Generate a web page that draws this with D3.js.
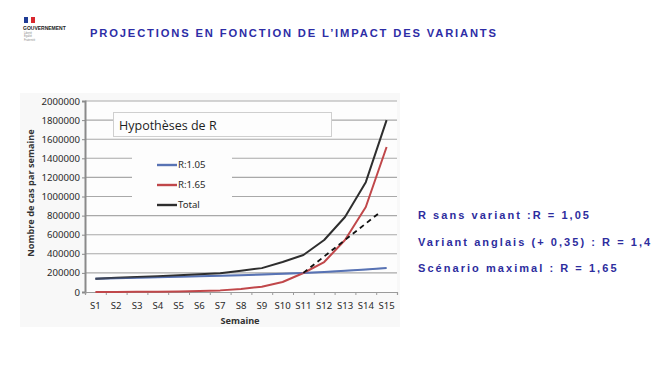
<!DOCTYPE html>
<html>
<head>
<meta charset="utf-8">
<script src="https://cdn.jsdelivr.net/npm/d3@7"></script>
<style>
  body { margin: 0; background: #fff; }
  svg { display: block; }
</style>
</head>
<body>
<div id="chart"></div>
<script>
// weeks and series values (cases per week)
var aWeeks = ["S1", "S2", "S3", "S4", "S5", "S6", "S7", "S8", "S9", "S10", "S11", "S12", "S13", "S14", "S15"];
var aR105 = [140000, 145000, 150000, 155000, 160000, 165000, 170000, 175000, 182000, 190000, 200000, 210000, 222000, 236000, 251000];
var aR165 = [700, 1200, 2000, 3500, 6000, 10000, 17000, 31000, 56000, 105000, 199000, 314000, 545000, 890000, 1518000];
var aTotal = [140000, 150000, 158000, 165000, 175000, 185000, 196000, 223000, 250000, 314000, 387000, 545000, 785000, 1150000, 1800000];
// dashed extrapolation: [week index, value]
var aDashed = [[11, 200000], [14.6, 820000]];
var aYTicks = [0, 200000, 400000, 600000, 800000, 1000000, 1200000, 1400000, 1600000, 1800000, 2000000];
var aLegend = [
  {label: "R:1.05", color: "#5873b4"},
  {label: "R:1.65", color: "#c0474a"},
  {label: "Total", color: "#2e2e2e"}
];
var aNotes = ["R sans variant :R = 1,05", "Variant anglais (+ 0,35) : R = 1,4", "Scénario maximal : R = 1,65"];

var W = 661, H = 371;
var svg = d3.select("#chart").append("svg").attr("width", W).attr("height", H);

// --- header ---
var gLogo = svg.append("g");
gLogo.append("rect").attr("x", 24).attr("y", 17).attr("width", 4).attr("height", 6).attr("fill", "#1f3c95");
gLogo.append("rect").attr("x", 28).attr("y", 17).attr("width", 3).attr("height", 6).attr("fill", "#ffffff");
gLogo.append("rect").attr("x", 31).attr("y", 17).attr("width", 4).attr("height", 6).attr("fill", "#d9272e");
gLogo.append("text").attr("x", 23).attr("y", 29.5)
  .attr("font-family", "Liberation Sans, Arial, sans-serif").attr("font-size", 5).attr("font-weight", "bold")
  .attr("fill", "#222").text("GOUVERNEMENT");
["Liberté", "Égalité", "Fraternité"].forEach(function(s, i) {
  gLogo.append("text").attr("x", 24).attr("y", 34 + i * 3.3)
    .attr("font-family", "Liberation Sans, Arial, sans-serif").attr("font-size", 2.6)
    .attr("fill", "#888").text(s);
});

svg.append("text")
  .attr("x", 90).attr("y", 37)
  .attr("font-family", "Liberation Sans, Arial, sans-serif")
  .attr("font-size", 11.2).attr("font-weight", "bold")
  .attr("letter-spacing", 1.85)
  .attr("fill", "#2d2da6")
  .text("PROJECTIONS EN FONCTION DE L\u2019IMPACT DES VARIANTS");

// --- scanned chart background ---
svg.append("rect").attr("x", 20).attr("y", 93).attr("width", 380).attr("height", 234).attr("fill", "#f8f8f8");

var MARGIN = {left: 85, right: 397, top: 101, bottom: 292};

var xBand = d3.scaleBand().domain(aWeeks).range([MARGIN.left, MARGIN.right]).padding(0);
var x = d3.scaleLinear().domain([0.5, aWeeks.length + 0.5]).range([MARGIN.left, MARGIN.right]);
var y = d3.scaleLinear().domain([0, 2000000]).range([MARGIN.bottom, MARGIN.top]);

svg.append("rect").attr("x", MARGIN.left).attr("y", MARGIN.top)
  .attr("width", MARGIN.right - MARGIN.left).attr("height", MARGIN.bottom - MARGIN.top)
  .attr("fill", "#fdfdfd");

// gridlines
svg.append("g").selectAll("line").data(aYTicks.slice(1)).enter().append("line")
  .attr("x1", MARGIN.left).attr("x2", MARGIN.right)
  .attr("y1", function(d) { return y(d); }).attr("y2", function(d) { return y(d); })
  .attr("stroke", "#a9a9a9").attr("stroke-width", 1.1);

// legend area hides gridlines
svg.append("rect").attr("x", 132).attr("y", 146).attr("width", 100).attr("height", 63).attr("fill", "#fdfdfd");

// title box
svg.append("rect").attr("x", 113.5).attr("y", 112.5).attr("width", 218).attr("height", 24)
  .attr("fill", "#fdfdfd").attr("stroke", "#cfcfcf");
svg.append("text").attr("x", 119).attr("y", 129.5)
  .attr("font-family", "Open Sans, sans-serif").attr("font-size", 12.5)
  .attr("fill", "#1e1e1e").text("Hypothèses de R");

// y axis
var gY = svg.append("g").attr("transform", "translate(" + MARGIN.left + ",0)")
  .call(d3.axisLeft(y).tickValues(aYTicks).tickSize(3).tickPadding(2).tickFormat(d3.format("d")));
gY.select(".domain").attr("stroke", "#8a8a8a").attr("stroke-width", 2);
gY.selectAll(".tick line").attr("stroke", "#8a8a8a");
gY.selectAll("text").attr("font-family", "Noto Sans, sans-serif").attr("font-size", 9.6).attr("fill", "#2a2a2a");

// x axis: boundary ticks + labels
var gX = svg.append("g").attr("transform", "translate(0," + MARGIN.bottom + ")")
  .call(d3.axisBottom(x).tickValues(d3.range(0.5, aWeeks.length + 1, 1)).tickSize(3).tickFormat(""));
gX.select(".domain").attr("stroke", "#9a9a9a").attr("stroke-width", 1.2);
gX.selectAll(".tick line").attr("stroke", "#9a9a9a");

var gXL = svg.append("g").attr("transform", "translate(0," + MARGIN.bottom + ")")
  .call(d3.axisBottom(xBand).tickSize(0).tickPadding(10));
gXL.select(".domain").remove();
gXL.selectAll("text").attr("font-family", "Noto Sans, sans-serif").attr("font-size", 9.6).attr("fill", "#2a2a2a");

// axis titles
svg.append("text").attr("transform", "translate(34,193) rotate(-90)")
  .attr("text-anchor", "middle")
  .attr("font-family", "Noto Sans, sans-serif").attr("font-size", 9.2).attr("font-weight", "bold")
  .attr("fill", "#333").text("Nombre de cas par semaine");
svg.append("text").attr("x", 240).attr("y", 324)
  .attr("text-anchor", "middle")
  .attr("font-family", "Noto Sans, sans-serif").attr("font-size", 9.2).attr("font-weight", "bold")
  .attr("fill", "#333").text("Semaine");

// lines
var line = d3.line()
  .x(function(d, i) { return x(i + 1); })
  .y(function(d) { return y(d); });

[[aR105, aLegend[0].color], [aTotal, aLegend[2].color], [aR165, aLegend[1].color]].forEach(function(a) {
  svg.append("path").datum(a[0])
    .attr("d", line)
    .attr("fill", "none")
    .attr("stroke", a[1])
    .attr("stroke-width", 2)
    .attr("stroke-linejoin", "round");
});
// blue shows faintly through the total where they overlap
svg.append("path").datum(aR105).attr("d", line).attr("fill", "none")
  .attr("stroke", aLegend[0].color).attr("stroke-width", 1.6).attr("opacity", 0.35);

svg.append("path").datum(aDashed)
  .attr("d", d3.line().x(function(d) { return x(d[0]); }).y(function(d) { return y(d[1]); }))
  .attr("fill", "none").attr("stroke", "#111").attr("stroke-width", 1.8)
  .attr("stroke-dasharray", "5,4");

// legend
var gLeg = svg.append("g").selectAll("g").data(aLegend).enter().append("g")
  .attr("transform", function(d, i) { return "translate(157," + (165 + i * 20) + ")"; });
gLeg.append("line").attr("x1", 0).attr("x2", 20).attr("stroke", function(d) { return d.color; }).attr("stroke-width", 2.4);
gLeg.append("text").attr("x", 21).attr("dy", "0.35em")
  .attr("font-family", "Noto Sans, sans-serif").attr("font-size", 9.6).attr("fill", "#2a2a2a")
  .text(function(d) { return d.label; });

// right-hand notes
svg.append("g").selectAll("text").data(aNotes).enter().append("text")
  .attr("x", 418).attr("y", function(d, i) { return 219 + i * 26.5; })
  .attr("font-family", "Liberation Sans, Arial, sans-serif")
  .attr("font-size", 11).attr("font-weight", "bold")
  .attr("letter-spacing", 2.05)
  .attr("fill", "#2d2d9e")
  .text(function(d) { return d; });
</script>
</body>
</html>
